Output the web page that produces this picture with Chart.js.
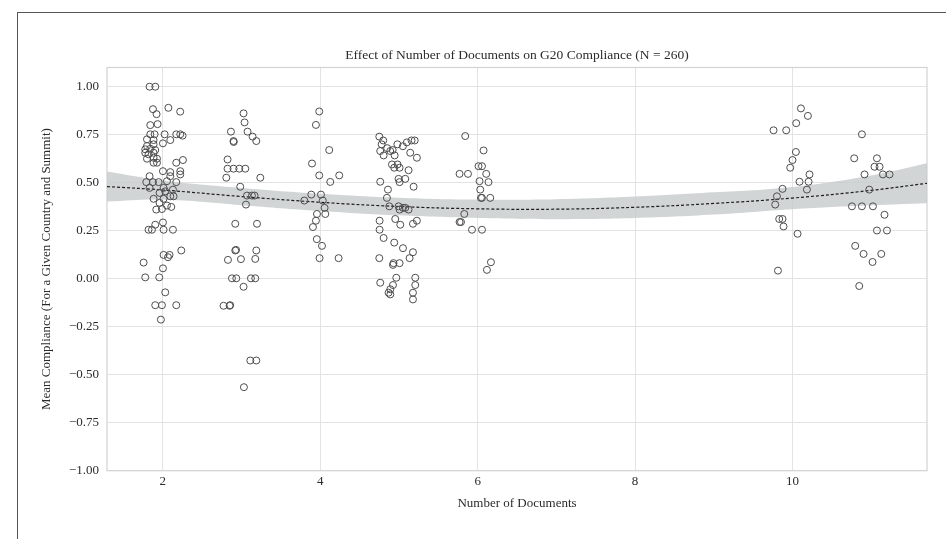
<!DOCTYPE html>
<html><head><meta charset="utf-8">
<script src="https://cdn.jsdelivr.net/npm/chart.js@4.4.1/dist/chart.umd.min.js"></script>
<style>
html,body{margin:0;padding:0;background:#fff;}
#wrap{position:relative;width:946px;height:539px;overflow:hidden;background:#fff;}
#frame{position:absolute;left:17px;top:12px;width:940px;height:540px;border-top:1.5px solid #555;border-left:1.5px solid #555;pointer-events:none;}
canvas{position:absolute;left:0;top:0;}
</style></head><body>
<div id="wrap"><canvas id="c" width="946" height="539"></canvas><div id="frame"></div></div>
<script>
// ---- tick labels ----
const xTicks = [2, 4, 6, 8, 10];
const yTicks = [-1, -0.75, -0.5, -0.25, 0, 0.25, 0.5, 0.75, 1];

// ---- observations (jittered number of documents, mean compliance) ----
const docs2 = [1.933,1.840,1.895,2.022,2.170,2.221,2.250,1.798,1.882,2.094,2.001,1.798,1.882,1.776,1.840,1.903,1.776,1.818,1.882,1.798,1.882,1.925,1.882,1.925,2.170,2.255,2.001,2.094,2.221,1.831,2.094,2.221,1.789,1.874,1.946,2.052,2.170,1.831,2.009,2.128,1.958,2.030,2.094,1.882,2.009,2.136,1.958,2.052,1.916,1.988,2.107,1.903,2.001,1.818,1.861,2.009,2.128,2.009,2.085,2.234,2.065,1.755,2.001,1.776,1.954,2.030,1.903,1.988,2.170,1.975,1.831,1.904,1.874,2.070,2.220,1.840,1.920];
const comp2 = [0.805,0.752,0.752,0.752,0.752,0.752,0.745,0.726,0.722,0.722,0.705,0.691,0.700,0.674,0.677,0.670,0.656,0.648,0.656,0.625,0.630,0.625,0.604,0.604,0.604,0.618,0.560,0.555,0.560,0.534,0.534,0.543,0.503,0.503,0.503,0.508,0.503,0.473,0.473,0.464,0.447,0.455,0.429,0.416,0.416,0.429,0.395,0.381,0.360,0.363,0.374,0.281,0.293,0.255,0.255,0.255,0.255,0.124,0.124,0.147,0.112,0.084,0.054,0.007,0.007,-0.071,-0.138,-0.138,-0.138,-0.213,1.000,1.000,0.883,0.890,0.870,0.800,0.857];

const docs3 = [3.025,3.038,2.865,3.076,3.140,3.187,2.898,2.900,2.822,2.822,2.898,2.971,3.047,2.806,3.238,2.983,3.069,3.132,3.165,3.056,2.920,3.196,2.920,2.930,2.827,2.992,3.187,3.174,2.878,2.933,3.119,3.174,3.025,2.771,2.848,2.855,3.111,3.187,3.030];
const comp3 = [0.861,0.814,0.766,0.766,0.740,0.717,0.717,0.712,0.621,0.573,0.573,0.573,0.573,0.526,0.526,0.479,0.433,0.433,0.433,0.386,0.286,0.286,0.147,0.150,0.098,0.102,0.147,0.103,0.002,0.002,0.002,0.002,-0.042,-0.141,-0.141,-0.138,-0.426,-0.426,-0.565];

const docs4 = [3.987,3.945,4.114,3.895,3.987,4.127,4.241,3.886,4.009,3.797,4.032,4.055,4.064,3.958,3.945,3.907,3.956,4.022,3.991,4.233];
const comp4 = [0.871,0.801,0.670,0.600,0.538,0.504,0.538,0.438,0.438,0.407,0.407,0.369,0.337,0.337,0.302,0.269,0.206,0.171,0.107,0.107];

const docs5 = [4.762,4.889,4.805,4.945,5.143,5.228,4.911,4.982,4.940,5.008,5.122,5.080,5.008,4.995,4.762,5.186,4.860,4.847,4.877,4.995,5.051,5.080,5.122,5.008,4.754,4.953,5.017,5.178,5.228,4.754,4.805,4.940,5.051,5.178,5.135,4.750,4.931,5.008,4.924,4.966,5.207,5.207,4.762,4.924,4.890,4.868,4.890,5.178,5.178,4.750,4.800,4.780,4.850,5.160,5.200,4.980,5.050,4.920,5.100];
const comp5 = [0.665,0.665,0.642,0.642,0.656,0.630,0.595,0.595,0.578,0.578,0.565,0.520,0.503,0.520,0.505,0.479,0.464,0.421,0.377,0.377,0.369,0.369,0.360,0.360,0.302,0.311,0.281,0.286,0.302,0.255,0.212,0.188,0.159,0.138,0.107,0.107,0.081,0.081,0.072,0.005,0.005,-0.033,-0.021,-0.033,-0.055,-0.073,-0.082,-0.073,-0.108,0.740,0.720,0.700,0.680,0.720,0.720,0.700,0.690,0.670,0.710];

const docs6 = [5.842,6.075,6.011,6.055,5.770,5.877,6.109,6.024,6.138,6.033,6.042,6.055,6.160,5.830,5.770,5.788,5.928,6.055,6.169,6.118];
const comp6 = [0.743,0.668,0.586,0.586,0.546,0.546,0.546,0.508,0.503,0.464,0.421,0.421,0.421,0.337,0.295,0.295,0.255,0.255,0.086,0.046];

const docs10 = [10.108,10.197,10.048,9.760,9.921,10.044,10.001,9.972,10.217,10.090,10.205,10.184,9.874,9.803,9.781,9.832,9.874,9.887,10.065,9.816];
const comp10 = [0.887,0.848,0.810,0.773,0.773,0.660,0.618,0.578,0.543,0.505,0.505,0.464,0.468,0.429,0.386,0.311,0.311,0.272,0.234,0.042];

const docs11 = [10.883,10.785,11.074,11.043,11.107,10.916,11.150,11.234,10.976,10.756,10.883,11.023,11.170,11.074,11.201,10.798,10.904,11.129,11.018,10.849];
const comp11 = [0.752,0.627,0.627,0.583,0.583,0.543,0.543,0.543,0.464,0.377,0.377,0.377,0.333,0.251,0.251,0.171,0.129,0.129,0.087,-0.038];

// ---- fitted quadratic trend and its confidence band ----
const fitX   = [1.29, 2, 3, 4, 5, 6, 7, 8, 9, 10, 11, 11.71];
const fitY   = [0.480, 0.462, 0.428, 0.398, 0.376, 0.364, 0.362, 0.372, 0.392, 0.420, 0.460, 0.497];
const bandLo = [0.402, 0.412, 0.383, 0.353, 0.330, 0.316, 0.310, 0.316, 0.334, 0.362, 0.382, 0.393];
const bandHi = [0.558, 0.512, 0.473, 0.443, 0.422, 0.412, 0.414, 0.428, 0.450, 0.478, 0.538, 0.601];

// ---- build chart data ----
const groupsX = [docs2, docs3, docs4, docs5, docs6, docs10, docs11];
const groupsY = [comp2, comp3, comp4, comp5, comp6, comp10, comp11];
const points = [];
groupsX.forEach((gx, g) => gx.forEach((x, i) => points.push({x: x, y: groupsY[g][i]})));
const toXY = arr => fitX.map((x, i) => ({x: x, y: arr[i]}));

const TXT = '#2b2b2b';
const SERIF = "'Liberation Serif', 'Times New Roman', serif";

const plotFrame = {
  id: 'plotFrame',
  beforeDatasetsDraw(chart) {
    const a = chart.chartArea, ctx = chart.ctx;
    ctx.save();
    ctx.strokeStyle = '#d2d2d2';
    ctx.lineWidth = 1.2;
    ctx.strokeRect(a.left, a.top, a.right - a.left, a.bottom - a.top);
    ctx.restore();
  }
};

new Chart(document.getElementById('c'), {
  type: 'line',
  data: {
    datasets: [
      { data: toXY(bandLo), borderWidth: 0, pointRadius: 0, fill: false, tension: 0.4, order: 5 },
      { data: toXY(bandHi), borderWidth: 0, pointRadius: 0, fill: '-1', backgroundColor: 'rgba(198,202,202,0.8)', tension: 0.4, order: 4 },
      { data: toXY(fitY), borderColor: '#1e1e1e', borderWidth: 1.2, borderDash: [3, 2], pointRadius: 0, fill: false, tension: 0.4, order: 3 },
      { data: points, showLine: false, pointRadius: 3.5, pointBorderWidth: 1, pointBorderColor: '#4d4d4d', pointBackgroundColor: 'rgba(0,0,0,0)', order: 1 }
    ]
  },
  options: {
    responsive: false,
    animation: false,
    devicePixelRatio: 1,
    layout: { padding: { top: 0, left: 0, right: 19, bottom: 23.3 } },
    plugins: {
      legend: { display: false },
      tooltip: { enabled: false },
      title: {
        display: true,
        fullSize: false,
        text: 'Effect of Number of Documents on G20 Compliance (N = 260)',
        color: TXT,
        font: { family: SERIF, size: 13.5, weight: 'normal' },
        padding: { top: 46.9, bottom: 4.4 }
      }
    },
    scales: {
      x: {
        type: 'linear',
        min: 1.29,
        max: 11.71,
        afterBuildTicks(s) { s.ticks = xTicks.map(v => ({ value: v })); },
        afterFit(s) { s.height = 45; },
        grid: { color: '#e3e3e3', lineWidth: 1, drawTicks: false },
        border: { display: false },
        ticks: { padding: 3.2, color: TXT, font: { family: SERIF, size: 13 }, callback: v => String(v) },
        title: { display: true, text: 'Number of Documents', color: TXT, font: { family: SERIF, size: 13 }, padding: { top: 0, bottom: 3.9 } }
      },
      y: {
        type: 'linear',
        min: -1,
        max: 1.1,
        afterBuildTicks(s) { s.ticks = yTicks.map(v => ({ value: v })); },
        afterFit(s) { s.width = 107; },
        grid: { color: '#e3e3e3', lineWidth: 1, drawTicks: false },
        border: { display: false },
        ticks: { padding: 8, color: TXT, font: { family: SERIF, size: 13 },
                 callback: v => (v < 0 ? '\u2212' : '') + Math.abs(v).toFixed(2) },
        title: { display: true, text: 'Mean Compliance (For a Given Country and Summit)', color: TXT, font: { family: SERIF, size: 13 }, padding: { top: 39.2, bottom: 0 } }
      }
    }
  },
  plugins: [plotFrame]
});
</script>
</body></html>
